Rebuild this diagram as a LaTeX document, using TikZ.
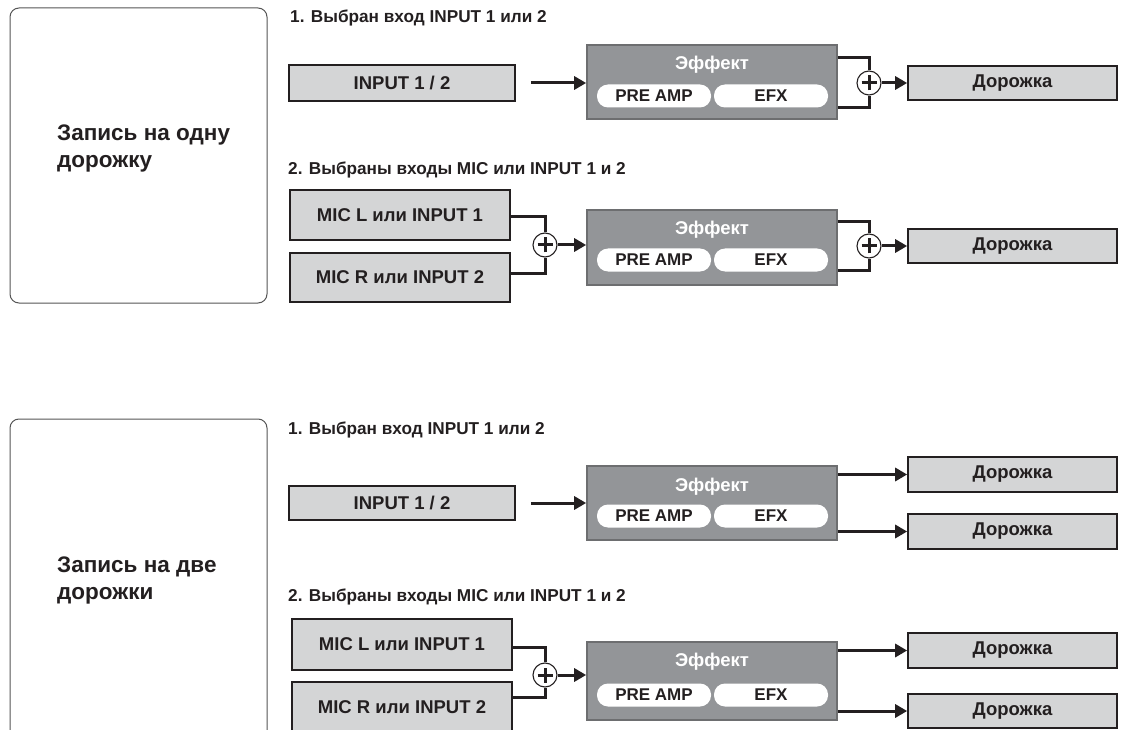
\documentclass[tikz,border=0pt]{standalone}
\usepackage{fontspec}
\setmainfont{Liberation Sans}
\usetikzlibrary{arrows.meta,calc}
\definecolor{ink}{HTML}{231F20}
\definecolor{boxgray}{HTML}{D4D5D6}
\definecolor{fxgray}{HTML}{939598}
\definecolor{fxborder}{HTML}{6D6E70}
\definecolor{framecol}{HTML}{555555}
\tikzset{
 srcbox/.style={draw=ink, fill=boxgray, line width=1.6pt, font=\bfseries\fontsize{18.5}{21}\selectfont, text=ink, inner sep=0pt},
 fxbox/.style={draw=fxborder, fill=fxgray, line width=1.6pt, minimum width=250pt, inner sep=0pt},
 fxlabel/.style={font=\bfseries\fontsize{18.5}{21}\selectfont, text=white, inner sep=0pt},
 pill/.style={fill=white, rounded corners=11pt, minimum width=114pt, minimum height=23pt, inner sep=0pt, font=\bfseries\fontsize{17}{19}\selectfont, text=ink},
 sumnode/.style={circle, draw=ink, fill=white, line width=1.1pt, minimum size=24pt, inner sep=0pt,
   path picture={\draw[ink, line width=3pt] ([xshift=-7.5pt]path picture bounding box.center) -- ([xshift=7.5pt]path picture bounding box.center) ([yshift=-7.5pt]path picture bounding box.center) -- ([yshift=7.5pt]path picture bounding box.center);}},
 wire/.style={draw=ink, line width=3pt},
 arr/.style={wire, -{Triangle[length=12pt,width=13pt]}},
 titletext/.style={anchor=west, font=\bfseries\fontsize{17.2}{19}\selectfont, text=ink, inner sep=0pt},
 modetext/.style={anchor=west, align=left, font=\bfseries\fontsize{22.5}{27}\selectfont, text=ink, inner sep=0pt},
 frameb/.style={draw=framecol, line width=1pt, rounded corners=9pt},
}
\begin{document}
\begin{tikzpicture}[x=1pt,y=-1pt]
\useasboundingbox (0,0) rectangle (1122,730);
\clip (0,0) rectangle (1122,730);

% ---------- left frames ----------
\draw[frameb] (10,8) rectangle (267,303);
\node[modetext] (modeA) at (57,148) {Запись на одну\\дорожку};
\draw[frameb] (10,419) rectangle (267,760);
\node[modetext] (modeC) at (57,580) {Запись на две\\дорожки};

% ---------- Section A ----------
\node[titletext] (tA) at (290,18) {1. Выбран вход INPUT 1 или 2};
\node[srcbox, minimum width=226pt, minimum height=36pt] (inA) at (402,83) {INPUT 1 / 2};
\node[fxbox, minimum height=74pt] (fxA) at (712,82) {};
\node[fxlabel] (fxAl) at (712,65) {Эффект};
\node[pill] (pA1) at (654,96) {PRE AMP};
\node[pill] (pA2) at (771,96) {EFX};
\node[sumnode] (sA) at (869,83) {};
\node[srcbox, minimum width=209pt, minimum height=34pt] (trA) at (1012.5,83) {Дорожка};
\draw[arr] ([xshift=15pt]inA.east) -- (inA.east -| fxA.west);
\draw[wire] ([yshift=24pt]fxA.east) -| (sA.north);
\draw[wire] ([yshift=-26pt]fxA.east) -| (sA.south);
\draw[arr] (sA.east) -- (sA.east -| trA.west);

% ---------- Section B ----------
\node[titletext] (tB) at (288,170) {2. Выбраны входы MIC или INPUT 1 и 2};
\node[srcbox, minimum width=220pt, minimum height=50pt] (mlB) at (400,215) {MIC L или INPUT 1};
\node[srcbox, minimum width=220pt, minimum height=49pt] (mrB) at (400,277.5) {MIC R или INPUT 2};
\node[sumnode] (sB1) at (545,245) {};
\node[fxbox, minimum height=75pt] (fxB) at (712,247.5) {};
\node[fxlabel] (fxBl) at (712,230) {Эффект};
\node[pill] (pB1) at (654,260) {PRE AMP};
\node[pill] (pB2) at (771,260) {EFX};
\node[sumnode] (sB2) at (869,246) {};
\node[srcbox, minimum width=209pt, minimum height=34pt] (trB) at (1012.5,246) {Дорожка};
\draw[wire] ([yshift=-2pt]mlB.east) -| (sB1.north);
\draw[wire] ([yshift=4.5pt]mrB.east) -| (sB1.south);
\draw[arr] (sB1.east) -- (sB1.east -| fxB.west);
\draw[wire] ([yshift=25.5pt]fxB.east) -| (sB2.north);
\draw[wire] ([yshift=-22.5pt]fxB.east) -| (sB2.south);
\draw[arr] (sB2.east) -- (sB2.east -| trB.west);

% ---------- Section C ----------
\node[titletext] (tC) at (288,430) {1. Выбран вход INPUT 1 или 2};
\node[srcbox, minimum width=226pt, minimum height=34pt] (inC) at (402,503) {INPUT 1 / 2};
\node[fxbox, minimum height=74pt] (fxC) at (712,503) {};
\node[fxlabel] (fxCl) at (712,487) {Эффект};
\node[pill] (pC1) at (654,516) {PRE AMP};
\node[pill] (pC2) at (771,516) {EFX};
\node[srcbox, minimum width=209pt, minimum height=35pt] (trC1) at (1012.5,474.5) {Дорожка};
\node[srcbox, minimum width=209pt, minimum height=35pt] (trC2) at (1012.5,531.5) {Дорожка};
\draw[arr] ([xshift=15pt]inC.east) -- (inC.east -| fxC.west);
\draw[arr] (fxC.east |- trC1.west) -- (trC1.west);
\draw[arr] (fxC.east |- trC2.west) -- (trC2.west);

% ---------- Section D ----------
\node[titletext] (tD) at (288,597) {2. Выбраны входы MIC или INPUT 1 и 2};
\node[srcbox, minimum width=220pt, minimum height=51pt] (mlD) at (402,644.5) {MIC L или INPUT 1};
\node[srcbox, minimum width=220pt, minimum height=50pt] (mrD) at (402,707) {MIC R или INPUT 2};
\node[sumnode] (sD) at (545,675) {};
\node[fxbox, minimum height=78pt] (fxD) at (712,681) {};
\node[fxlabel] (fxDl) at (712,662) {Эффект};
\node[pill] (pD1) at (654,695) {PRE AMP};
\node[pill] (pD2) at (771,695) {EFX};
\node[srcbox, minimum width=209pt, minimum height=35pt] (trD1) at (1012.5,650.5) {Дорожка};
\node[srcbox, minimum width=209pt, minimum height=34pt] (trD2) at (1012.5,711) {Дорожка};
\draw[wire] ([yshift=-2.5pt]mlD.east) -| (sD.north);
\draw[wire] ([yshift=10pt]mrD.east) -| (sD.south);
\draw[arr] (sD.east) -- (sD.east -| fxD.west);
\draw[arr] (fxD.east |- trD1.west) -- (trD1.west);
\draw[arr] (fxD.east |- trD2.west) -- (trD2.west);
\end{tikzpicture}
\end{document}
